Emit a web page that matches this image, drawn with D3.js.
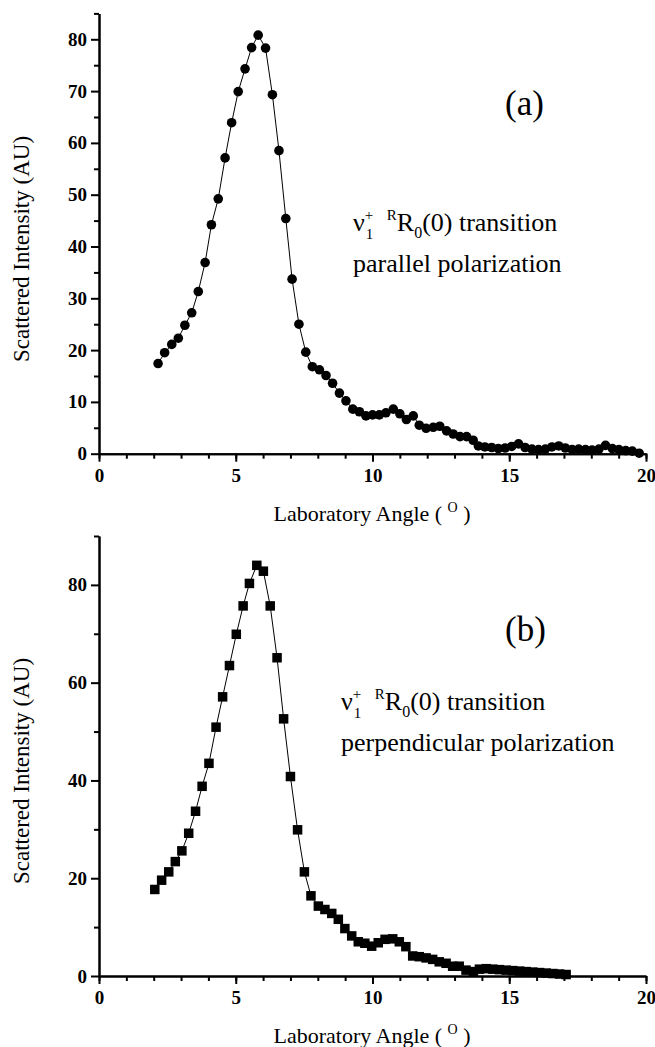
<!DOCTYPE html>
<html>
<head>
<meta charset="utf-8">
<script src="https://cdn.jsdelivr.net/npm/d3@7"></script>
<style>
  body { margin: 0; background: #fff; }
  svg { display: block; }
</style>
</head>
<body>
<svg id="chart"></svg>
<script>
// panel (a): parallel polarization
const angleA = [2.16, 2.40, 2.66, 2.90, 3.14, 3.39, 3.63, 3.88, 4.11, 4.36, 4.61, 4.85, 5.09, 5.34, 5.58, 5.82, 6.09, 6.34, 6.58, 6.83,
  7.06, 7.31, 7.56, 7.80, 8.06, 8.30, 8.54, 8.79, 9.03, 9.28, 9.52, 9.76, 10.00, 10.25, 10.49, 10.76, 11.00, 11.24, 11.49, 11.71,
  11.96, 12.22, 12.46, 12.71, 12.95, 13.20, 13.44, 13.68, 13.87, 14.11, 14.36, 14.60, 14.85, 15.09, 15.34, 15.58, 15.83, 16.07, 16.32, 16.56,
  16.81, 17.05, 17.30, 17.54, 17.79, 18.03, 18.28, 18.52, 18.77, 19.01, 19.26, 19.50, 19.75];
const intensityA = [17.4, 19.5, 21.1, 22.3, 24.8, 27.2, 31.3, 36.9, 44.2, 49.2, 57.1, 63.9, 69.9, 74.3, 78.4, 80.8, 78.3, 69.3, 58.5, 45.4,
  33.7, 25.0, 19.6, 16.8, 16.2, 15.1, 13.6, 11.7, 10.2, 8.6, 8.1, 7.3, 7.5, 7.5, 7.9, 8.6, 7.7, 6.6, 7.3, 5.5,
  4.9, 5.1, 5.3, 4.4, 3.8, 3.3, 3.3, 2.6, 1.5, 1.3, 1.2, 1.0, 1.1, 1.4, 1.9, 1.2, 0.9, 0.8, 0.9, 1.3,
  1.5, 1.1, 0.8, 0.9, 0.8, 0.7, 0.9, 1.6, 1.0, 0.8, 0.6, 0.5, 0.1];

// panel (b): perpendicular polarization
const angleB = [2.04, 2.29, 2.55, 2.79, 3.03, 3.28, 3.53, 3.77, 4.02, 4.28, 4.52, 4.77, 5.02, 5.27, 5.50, 5.77, 6.01, 6.26, 6.51, 6.75,
  7.00, 7.26, 7.51, 7.75, 8.02, 8.26, 8.51, 8.75, 8.99, 9.24, 9.48, 9.72, 9.97, 10.21, 10.46, 10.74, 10.98, 11.22, 11.47, 11.71,
  11.96, 12.20, 12.44, 12.69, 12.93, 13.17, 13.42, 13.69, 13.91, 14.16, 14.40, 14.64, 14.89, 15.13, 15.38, 15.62, 15.86, 16.11, 16.35, 16.60,
  16.84, 17.08];
const intensityB = [17.7, 19.6, 21.3, 23.4, 25.6, 29.2, 33.7, 38.8, 43.5, 50.9, 57.1, 63.5, 69.9, 75.7, 80.3, 84.0, 82.8, 75.7, 65.1, 52.6,
  40.8, 29.9, 21.3, 16.4, 14.3, 13.6, 12.8, 11.6, 9.7, 8.2, 7.0, 6.7, 6.1, 6.8, 7.5, 7.6, 7.0, 6.0, 4.1, 3.95,
  3.7, 3.4, 2.9, 2.6, 2.0, 2.0, 1.2, 0.9, 1.4, 1.5, 1.4, 1.3, 1.2, 1.1, 1.0, 0.9, 0.8, 0.7, 0.6, 0.5,
  0.4, 0.3];

const xTicks = [0, 5, 10, 15, 20];
const xMinor = [0, 1, 2, 3, 4, 5, 6, 7, 8, 9, 10, 11, 12, 13, 14, 15, 16, 17, 18, 19, 20];
const yTicksA = [0, 10, 20, 30, 40, 50, 60, 70, 80];
const yMinorA = [5, 15, 25, 35, 45, 55, 65, 75, 85];
const yTicksB = [0, 20, 40, 60, 80];
const yMinorB = [10, 30, 50, 70, 90];

const FONT = "Liberation Serif";
const W = 655, H = 1047;
const svg = d3.select("#chart").attr("width", W).attr("height", H)
  .attr("font-family", FONT);
svg.append("rect").attr("width", W).attr("height", H).attr("fill", "#fff");

const x = d3.scaleLinear().domain([0, 20]).range([99, 646]);

function styleAxis(g) {
  g.attr("font-family", FONT);
  g.select(".domain").attr("stroke", "#000").attr("stroke-width", 2);
  g.selectAll(".tick line").attr("stroke", "#000").attr("stroke-width", 2);
  g.selectAll(".tick text")
    .attr("font-family", FONT)
    .attr("font-size", 19).attr("font-weight", "bold").attr("fill", "#000");
}

function txt(px, py, size) {
  return svg.append("text").attr("x", px).attr("y", py)
    .attr("font-family", FONT).attr("font-size", size).attr("fill", "#000");
}

// nu_1^+ ^R R_0(0) transition
function note(x0, base) {
  let cx = x0;
  const put = (str, size, dx, dy) => txt(cx + dx, base + dy, size).text(str)
    .node().getComputedTextLength();
  cx += put("ν", 26, 0, 0);
  put("1", 15, 1, 8);
  put("+", 15, 0, -11);
  cx += 22;
  cx += put("R", 15, 0, -11);
  cx += put("R", 26, 0, 0);
  cx += put("0", 16, 0, 7);
  put("(0) transition", 26, 0, 0);
}

function panel(cfg) {
  const y = d3.scaleLinear().domain([0, cfg.yMax]).range([cfg.y0, cfg.yTop]);

  // minor ticks
  svg.append("g").attr("transform", `translate(0,${cfg.y0})`)
    .call(d3.axisBottom(x).tickValues(xMinor).tickSize(5).tickFormat("").tickSizeOuter(0))
    .call(styleAxis);
  svg.append("g").attr("transform", "translate(99,0)")
    .call(d3.axisLeft(y).tickValues(cfg.yMinor).tickSize(5).tickFormat("").tickSizeOuter(0))
    .call(styleAxis);

  // major ticks with labels
  svg.append("g").attr("transform", `translate(0,${cfg.y0})`)
    .call(d3.axisBottom(x).tickValues(xTicks).tickSize(8).tickPadding(7).tickSizeOuter(0))
    .call(styleAxis);
  svg.append("g").attr("transform", "translate(99,0)")
    .call(d3.axisLeft(y).tickValues(cfg.yTicks).tickSize(8).tickPadding(4).tickSizeOuter(0))
    .call(styleAxis);

  const pts = cfg.angles.map((a, i) => [a, cfg.values[i]]);

  svg.append("path")
    .datum(pts)
    .attr("fill", "none").attr("stroke", "#000").attr("stroke-width", 1)
    .attr("d", d3.line().x(d => x(d[0])).y(d => y(d[1])));

  if (cfg.marker === "circle") {
    svg.append("g").selectAll("circle").data(pts).join("circle")
      .attr("cx", d => x(d[0])).attr("cy", d => y(d[1])).attr("r", 4.8).attr("fill", "#000");
  } else {
    const s = 9.5;
    svg.append("g").selectAll("rect").data(pts).join("rect")
      .attr("x", d => x(d[0]) - s / 2).attr("y", d => y(d[1]) - s / 2)
      .attr("width", s).attr("height", s).attr("fill", "#000");
  }

  // axis titles
  const xt = txt(372, cfg.y0 + 67, 22).attr("text-anchor", "middle");
  xt.append("tspan").text("Laboratory Angle ( ");
  xt.append("tspan").attr("font-size", 14).attr("dy", -9).text("O");
  xt.append("tspan").attr("dy", 9).text(" )");

  txt(0, 0, 23)
    .attr("transform", `translate(29,${cfg.yMid}) rotate(-90)`)
    .attr("text-anchor", "middle")
    .text("Scattered Intensity (AU)");

  // panel label and annotation
  txt(505, cfg.labelY, 35).text(cfg.label);
  note(cfg.noteX, cfg.noteY);
  txt(cfg.noteX, cfg.noteY + 41, 26).text(cfg.polarization);
}

panel({
  angles: angleA, values: intensityA, marker: "circle",
  yMax: 85, yTicks: yTicksA, yMinor: yMinorA,
  y0: 453.7, yTop: 13.4, yMid: 249,
  label: "(a)", labelY: 115,
  noteX: 353, noteY: 231, polarization: "parallel polarization"
});

panel({
  angles: angleB, values: intensityB, marker: "square",
  yMax: 90, yTicks: yTicksB, yMinor: yMinorB,
  y0: 976, yTop: 536, yMid: 771,
  label: "(b)", labelY: 641,
  noteX: 341, noteY: 710, polarization: "perpendicular polarization"
});
</script>
</body>
</html>
